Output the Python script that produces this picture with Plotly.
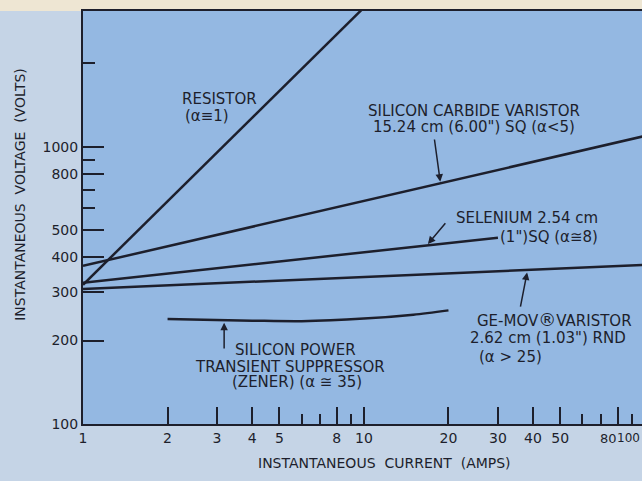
import numpy as np
import plotly.graph_objects as go

# ---- data: instantaneous current (A) vs instantaneous voltage (V) ----
resistor_i = [1, 10]
resistor_v = [318, 3180]

sic_i = [1, 100]
sic_v = [372, 1094]

selenium_i = [1, 30]
selenium_v = [323, 470]

gemov_i = [1, 100]
gemov_v = [307, 375]

zener_i = [2, 4, 6, 10, 15, 20]
zener_v = [239, 236, 235, 240, 248, 257]

x_major = [1, 2, 3, 4, 5, 8, 10, 20, 30, 40, 50, 80]
# "80" is written beside its tick (below) to leave room for the "100" at the edge
x_major_text = ["1", "2", "3", "4", "5", "8", "10", "20", "30", "40", "50", ""]
x_minor = [6, 7, 9, 60, 70, 90]
y_major = [100, 200, 300, 400, 500, 800, 1000]
y_minor = [600, 700, 900, 2000]

INK = "#1d1f2c"
FONT = "DejaVu Sans"
PLOT_BG = "#94b8e2"
PAPER_BG = "#c5d4e6"
STRIP = "#eee6d3"

fig = go.Figure()
for xs, ys in [(resistor_i, resistor_v), (sic_i, sic_v), (selenium_i, selenium_v),
               (gemov_i, gemov_v)]:
    fig.add_trace(go.Scatter(x=xs, y=ys, mode="lines",
                             line=dict(color=INK, width=2.5), showlegend=False,
                             hoverinfo="skip"))
fig.add_trace(go.Scatter(x=zener_i, y=zener_v, mode="lines",
                         line=dict(color=INK, width=2.5, shape="spline", smoothing=0.8),
                         showlegend=False, hoverinfo="skip"))

# ---- curve labels (data coordinates) ----
labels = [
    ("RESISTOR", 2.22, 1487, "left"),
    ("(α≡1)", 2.275, 1291, "left"),
    ("SILICON CARBIDE VARISTOR", 24.6, 1349, "center"),
    ("15.24 cm (6.00\") SQ (α<5)", 24.6, 1182, "center"),
    ("SELENIUM 2.54 cm", 69.3, 553, "right"),
    ("(1\")SQ (α≅8)", 69.3, 473, "right"),
    ("GE-MOV<span style='font-size:18px'>®</span>VARISTOR", 24.9, 238, "left"),
    ("2.62 cm (1.03\") RND", 23.5, 204, "left"),
    ("(α > 25)", 25.3, 174, "left"),
    ("SILICON POWER", 5.69, 185, "center"),
    ("TRANSIENT SUPPRESSOR", 5.44, 160.6, "center"),
    ("(ZENER) (α ≅ 35)", 5.79, 141.8, "center"),
]
for txt, xv, yv, anc in labels:
    fig.add_annotation(x=np.log10(xv), y=np.log10(yv), text=txt, showarrow=False,
                       xanchor=anc, yanchor="middle",
                       font=dict(family=FONT, size=15, color=INK))

# ---- pointer arrows: (head current, head voltage, tail current, tail voltage) ----
arrows = [
    (18.7, 748, 17.8, 1076),
    (16.9, 446, 19.7, 537),
    (38.1, 352, 36.0, 262),
    (3.18, 232, 3.18, 185),
]
for hx, hy, tx, ty in arrows:
    fig.add_annotation(x=np.log10(hx), y=np.log10(hy), ax=np.log10(tx), ay=np.log10(ty),
                       xref="x", yref="y", axref="x", ayref="y", text="",
                       showarrow=True, arrowhead=2, arrowsize=1, arrowwidth=1.5,
                       arrowcolor=INK)

# ---- axis titles and the crowded labels at the end of the current axis ----
fig.add_annotation(xref="paper", yref="paper", x=0.54, y=-0.094,
                   xanchor="center", yanchor="middle",
                   text="INSTANTANEOUS  CURRENT  (AMPS)", showarrow=False,
                   font=dict(family=FONT, size=14, color=INK))
fig.add_annotation(xref="paper", yref="paper", x=-0.113, y=0.557,
                   xanchor="center", yanchor="middle",
                   text="INSTANTANEOUS  VOLTAGE  (VOLTS)", showarrow=False, textangle=-90,
                   font=dict(family=FONT, size=14, color=INK))
fig.add_annotation(xref="x", yref="paper", x=np.log10(80), y=-0.035, xshift=1,
                   xanchor="right", yanchor="middle",
                   text="80", showarrow=False,
                   font=dict(family=FONT, size=13, color=INK))
fig.add_annotation(xref="paper", yref="paper", x=1.0, y=-0.035,
                   xanchor="right", yanchor="middle",
                   text="100", showarrow=False,
                   font=dict(family=FONT, size=12, color=INK))

# cream strip along the top edge
fig.add_shape(type="rect", xref="paper", yref="paper", x0=-0.2, x1=1.0, y0=1.0, y1=1.04,
              fillcolor=STRIP, line=dict(width=0), layer="below")

fig.update_xaxes(type="log", range=[0, 1.990], showgrid=False, zeroline=False,
                 showline=True, linecolor=INK, linewidth=2, mirror=True,
                 ticks="inside", ticklen=17, tickwidth=2, tickcolor=INK,
                 tickmode="array", tickvals=x_major, ticktext=x_major_text,
                 tickfont=dict(family=FONT, size=14, color=INK),
                 minor=dict(tickmode="array", tickvals=x_minor, ticks="inside",
                            ticklen=10, tickwidth=2, tickcolor=INK, showgrid=False))
fig.update_yaxes(type="log", range=[2, 3.49], showgrid=False, zeroline=False,
                 showline=True, linecolor=INK, linewidth=2, mirror=False,
                 ticks="inside", ticklen=21, tickwidth=2, tickcolor=INK,
                 tickmode="array", tickvals=y_major, ticktext=[str(v) for v in y_major],
                 tickfont=dict(family=FONT, size=14, color=INK),
                 minor=dict(tickmode="array", tickvals=y_minor, ticks="inside",
                            ticklen=12, tickwidth=2, tickcolor=INK, showgrid=False))

fig.update_layout(width=642, height=481,
                  margin=dict(l=83, r=0, t=11, b=57),
                  plot_bgcolor=PLOT_BG, paper_bgcolor=PAPER_BG,
                  showlegend=False)

fig.write_html("out.html")
